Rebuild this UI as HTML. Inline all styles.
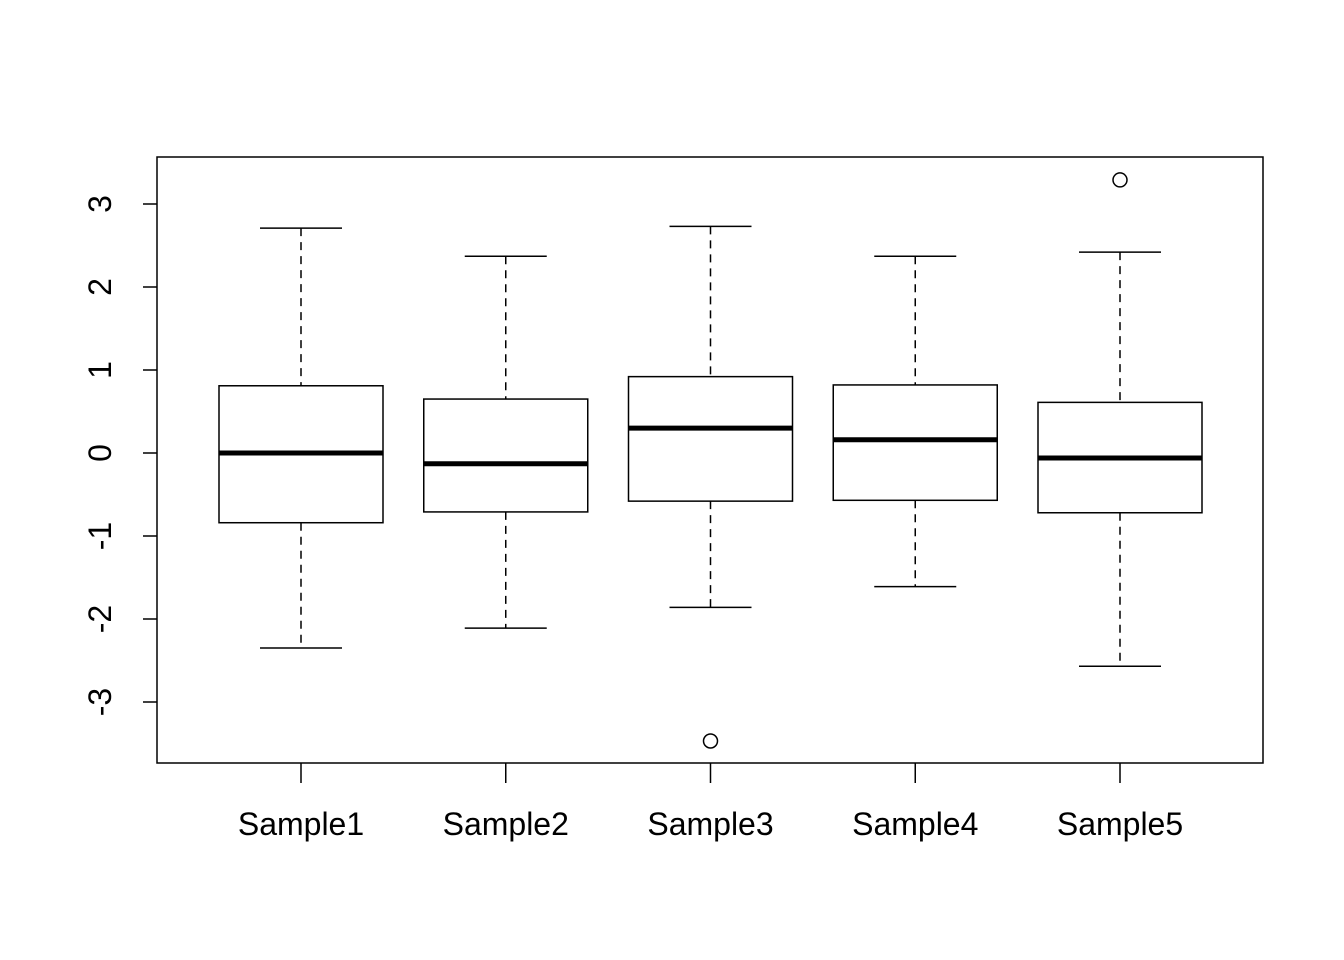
<!DOCTYPE html>
<html><head><meta charset="utf-8"><style>
html,body{margin:0;padding:0;background:#fff;}
svg{display:block;font-family:"Liberation Sans",Arial,sans-serif;}
</style></head><body>
<svg id="chart" width="1344" height="960" viewBox="0 0 1344 960" xmlns="http://www.w3.org/2000/svg">
<rect x="0" y="0" width="1344" height="960" fill="#fff"/>
<rect x="157" y="157" width="1106" height="606" fill="none" stroke="#000" stroke-width="1.5"/>
<g id="marks"></g>
</svg>
<script>
const categories = ["Sample1","Sample2","Sample3","Sample4","Sample5"];
const whiskerHigh = [2.71, 2.37, 2.73, 2.37, 2.42];
const q3Values = [0.81, 0.65, 0.92, 0.82, 0.61];
const medians = [0.0, -0.13, 0.30, 0.16, -0.06];
const q1Values = [-0.84, -0.71, -0.58, -0.57, -0.72];
const whiskerLow = [-2.35, -2.11, -1.86, -1.61, -2.57];
const outliers = [[], [], [-3.47], [], [3.29]];
const yTicks = [-3, -2, -1, 0, 1, 2, 3];
const yTickLabels = ["-3", "-2", "-1", "0", "1", "2", "3"];

const NS = "http://www.w3.org/2000/svg";
const g = document.getElementById("marks");
function yScale(v){ return 453 - v * 83; }
function xScale(i){ return 301 + i * 204.75; }
const boxW = 164, capW = 82;
function mk(tag, attrs){
  const e = document.createElementNS(NS, tag);
  for (const k in attrs) e.setAttribute(k, attrs[k]);
  g.appendChild(e);
  return e;
}
yTicks.forEach((t, i) => {
  const y = yScale(t);
  const tk = mk("line", {x1:143, x2:157, y1:y, y2:y, stroke:"#000", "stroke-width":1.5});
  
  
  const tx = mk("text", {x:0, y:0, "font-size":32, "text-anchor":"middle", transform:`translate(111,${y}) rotate(-90)`});
  tx.textContent = yTickLabels[i];
  
  
});
categories.forEach((c, i) => {
  const x = xScale(i);
  const tk = mk("line", {x1:x, x2:x, y1:763, y2:783, stroke:"#000", "stroke-width":1.5});
  
  
  const tx = mk("text", {x:x, y:835, "font-size":32, "text-anchor":"middle"});
  tx.textContent = c;
  
  
  const wu = mk("line", {x1:x, x2:x, y1:yScale(whiskerHigh[i]), y2:yScale(q3Values[i]), stroke:"#000", "stroke-width":1.5, "stroke-dasharray":"8,6"});
  
  
  const wl = mk("line", {x1:x, x2:x, y1:yScale(q1Values[i]), y2:yScale(whiskerLow[i]), stroke:"#000", "stroke-width":1.5, "stroke-dasharray":"8,6"});
  
  
  const cu = mk("line", {x1:x-capW/2, x2:x+capW/2, y1:yScale(whiskerHigh[i]), y2:yScale(whiskerHigh[i]), stroke:"#000", "stroke-width":1.5});
  
  
  const cl = mk("line", {x1:x-capW/2, x2:x+capW/2, y1:yScale(whiskerLow[i]), y2:yScale(whiskerLow[i]), stroke:"#000", "stroke-width":1.5});
  
  
  const b = mk("rect", {x:x-boxW/2, y:yScale(q3Values[i]), width:boxW, height:yScale(q1Values[i])-yScale(q3Values[i]), fill:"#fff", stroke:"#000", "stroke-width":1.5});
  
  
  const m = mk("line", {x1:x-boxW/2, x2:x+boxW/2, y1:yScale(medians[i]), y2:yScale(medians[i]), stroke:"#000", "stroke-width":5});
  
  
  outliers[i].forEach(v => {
    const o = mk("circle", {cx:x, cy:yScale(v), r:7, fill:"none", stroke:"#000", "stroke-width":1.5});
    
    
  });
});
</script>
</body></html>
